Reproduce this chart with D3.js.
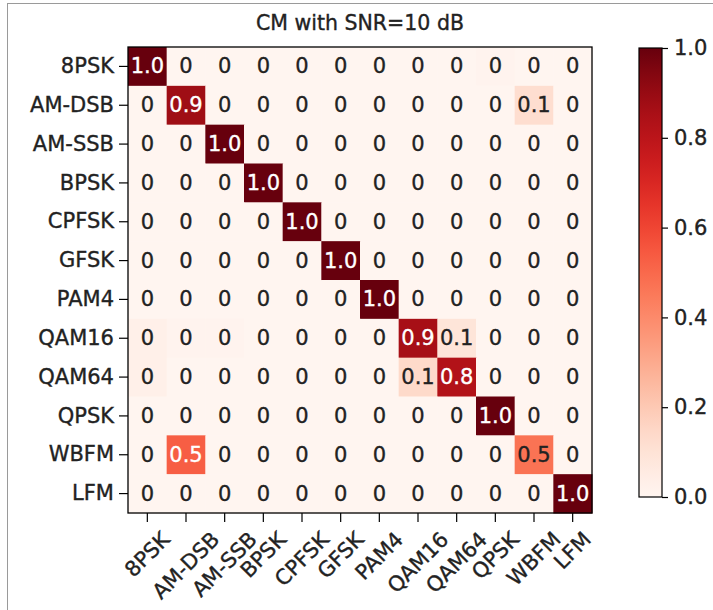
<!DOCTYPE html>
<html>
<head>
<meta charset="utf-8">
<script src="https://cdn.jsdelivr.net/npm/d3@7"></script>
<style>
	body { margin: 0; background: #fff; }
	svg { display: block; font-family: "DejaVu Sans", sans-serif; }
	svg text { stroke-width: 0.35px; paint-order: stroke; }
</style>
</head>
<body>
<svg width="713" height="610"></svg>
<script>
let classes = ['8PSK', 'AM-DSB', 'AM-SSB', 'BPSK', 'CPFSK', 'GFSK', 'PAM4', 'QAM16', 'QAM64', 'QPSK', 'WBFM', 'LFM']

// rows = true class, columns = predicted class
let cm = [
	[1.00, 0, 0, 0, 0, 0, 0, 0, 0, 0.01, 0, 0],
	[0, 0.88, 0, 0, 0, 0, 0, 0, 0, 0, 0.12, 0],
	[0, 0, 1.00, 0, 0, 0, 0, 0, 0, 0, 0, 0],
	[0, 0, 0, 1.00, 0, 0, 0, 0, 0, 0, 0, 0],
	[0, 0, 0, 0, 1.00, 0, 0, 0, 0, 0, 0, 0],
	[0, 0, 0, 0, 0, 1.00, 0, 0, 0, 0, 0, 0],
	[0, 0, 0, 0, 0, 0, 1.00, 0, 0, 0, 0, 0],
	[0.03, 0.01, 0.01, 0, 0, 0, 0, 0.86, 0.09, 0, 0, 0],
	[0.03, 0, 0, 0, 0, 0, 0, 0.14, 0.83, 0, 0, 0],
	[0, 0, 0, 0, 0, 0, 0, 0, 0, 1.00, 0, 0],
	[0, 0.53, 0, 0, 0, 0, 0, 0, 0, 0, 0.47, 0],
	[0, 0, 0, 0, 0, 0, 0, 0, 0, 0, 0, 1.00]
]

let colorTicks = [0, 0.2, 0.4, 0.6, 0.8, 1.0]
let title = 'CM with SNR=10 dB'

let svg = d3.select('svg')
let plot = {left: 128, right: 592, top: 47, bottom: 513}
let fontSize = 21

// screenshot frame
svg.append('rect')
	.attr('x', 7.5).attr('y', 3.5)
	.attr('width', 720).attr('height', 620)
	.attr('fill', 'none').attr('stroke', '#9a9a9a')

let x = d3.scaleBand().domain(classes).range([plot.left, plot.right])
let y = d3.scaleBand().domain(classes).range([plot.top, plot.bottom])
let color = d3.scaleSequential(d3.interpolateReds).domain([0, 1])

let cells = []
cm.forEach((row, i) => row.forEach((v, j) => cells.push({row: classes[i], col: classes[j], v: v})))

let g = svg.append('g')
g.selectAll('rect.cell')
	.data(cells)
	.join('rect')
	.attr('class', 'cell')
	.attr('x', d => x(d.col))
	.attr('y', d => y(d.row))
	.attr('width', x.bandwidth() + 0.5)
	.attr('height', y.bandwidth() + 0.5)
	.attr('fill', d => color(d.v))

g.selectAll('text.val')
	.data(cells)
	.join('text')
	.attr('class', 'val')
	.attr('x', d => x(d.col) + x.bandwidth() / 2)
	.attr('y', d => y(d.row) + y.bandwidth() / 2)
	.attr('text-anchor', 'middle')
	.attr('dominant-baseline', 'central')
	.attr('font-size', fontSize)
	.attr('fill', d => d.v > 0.5 ? '#fff' : '#222')
	.attr('stroke', d => d.v > 0.5 ? '#fff' : '#222')
	.text(d => Math.round(d.v * 10) == 0 ? '0' : d.v.toFixed(1))

// frame
svg.append('rect')
	.attr('x', plot.left).attr('y', plot.top)
	.attr('width', plot.right - plot.left).attr('height', plot.bottom - plot.top)
	.attr('fill', 'none').attr('stroke', '#000').attr('stroke-width', 1.3)

// y axis
let yAxis = svg.append('g')
	.attr('transform', 'translate(' + plot.left + ',0)')
	.call(d3.axisLeft(y).tickSize(9).tickPadding(5))
yAxis.select('.domain').remove()
yAxis.selectAll('text').attr('font-size', fontSize).attr('font-family', 'DejaVu Sans').attr('fill', '#222').attr('stroke', '#222')
yAxis.selectAll('line').attr('stroke-width', 1.2)

// x axis, labels rotated 45 with their box centred on the tick
let xAxis = svg.append('g')
	.attr('transform', 'translate(0,' + plot.bottom + ')')
	.call(d3.axisBottom(x).tickSize(9))
xAxis.select('.domain').remove()
xAxis.selectAll('line').attr('stroke-width', 1.2)
xAxis.selectAll('text')
	.attr('font-size', fontSize)
	.attr('font-family', 'DejaVu Sans')
	.attr('fill', '#222')
	.attr('stroke', '#222')
	.attr('text-anchor', 'middle')
	.attr('dominant-baseline', 'central')
	.attr('dy', null)
	.each(function() {
		let w = this.getComputedTextLength()
		let h = fontSize * 1.05
		let side = (w + h) / Math.SQRT2
		d3.select(this)
			.attr('y', 0)
			.attr('transform', 'translate(0,' + (15 + side / 2) + ') rotate(-45)')
	})

// title
svg.append('text')
	.attr('x', (plot.left + plot.right) / 2)
	.attr('y', 30)
	.attr('text-anchor', 'middle')
	.attr('font-size', 20.5)
	.attr('fill', '#222')
	.attr('stroke', '#222')
	.text(title)

// colorbar
let bar = {left: 639, right: 662, top: 48, bottom: 497}
let defs = svg.append('defs')
let grad = defs.append('linearGradient')
	.attr('id', 'cbar')
	.attr('x1', 0).attr('y1', 1).attr('x2', 0).attr('y2', 0)
d3.range(0, 1.0001, 0.05).forEach(t => {
	grad.append('stop').attr('offset', t).attr('stop-color', color(t))
})
svg.append('rect')
	.attr('x', bar.left).attr('y', bar.top)
	.attr('width', bar.right - bar.left).attr('height', bar.bottom - bar.top)
	.attr('fill', 'url(#cbar)')
	.attr('stroke', '#000').attr('stroke-width', 1.2)

let cScale = d3.scaleLinear().domain([0, 1]).range([bar.bottom, bar.top])
let cAxis = svg.append('g')
	.attr('transform', 'translate(' + bar.right + ',0)')
	.call(d3.axisRight(cScale).tickValues(colorTicks).tickFormat(d3.format('.1f')).tickSize(6).tickPadding(6))
cAxis.select('.domain').remove()
cAxis.selectAll('text').attr('font-size', fontSize).attr('font-family', 'DejaVu Sans').attr('fill', '#222').attr('stroke', '#222')
cAxis.selectAll('line').attr('stroke-width', 1.2)
</script>
</body>
</html>
